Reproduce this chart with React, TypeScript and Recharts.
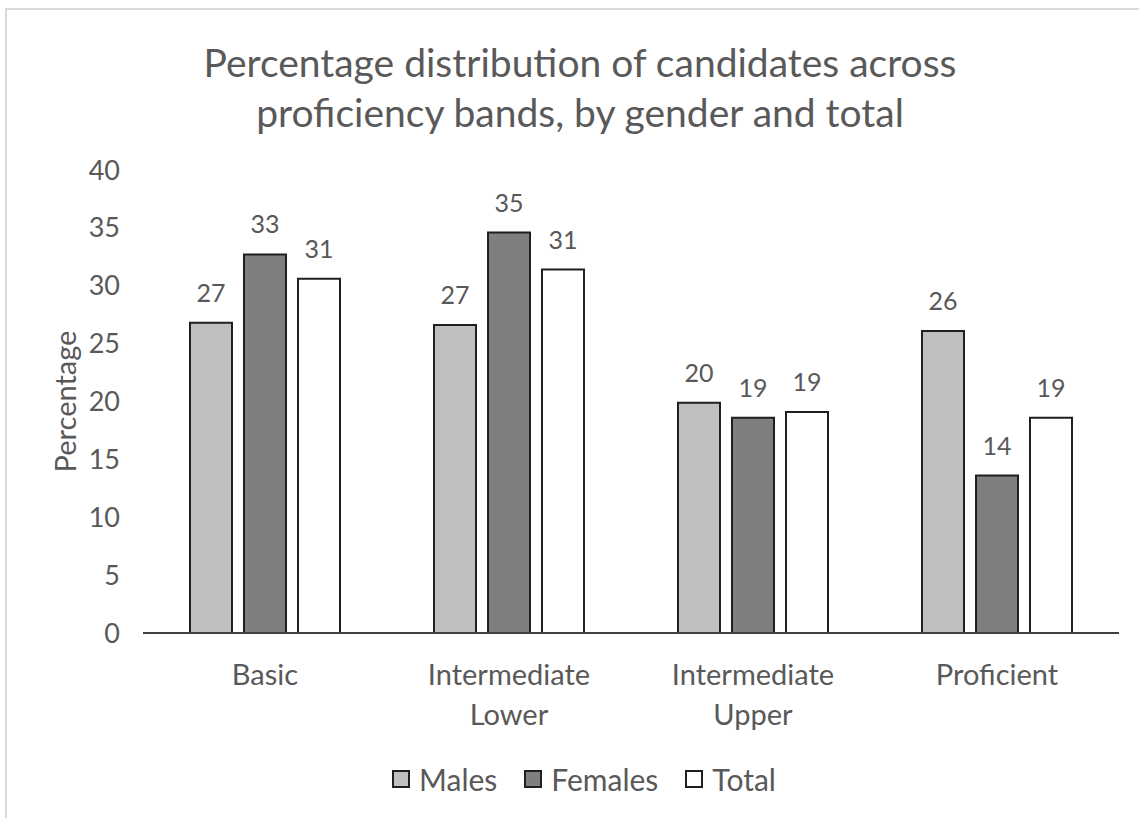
import { BarChart, Bar, XAxis, YAxis, LabelList } from 'recharts';

// ─── Data ───────────────────────────────────────────────────
const categories = ['Basic', 'Intermediate Lower', 'Intermediate Upper', 'Proficient'];
const males = [26.8, 26.6, 19.9, 26.1];
const females = [32.7, 34.6, 18.6, 13.6];
const total = [30.6, 31.4, 19.1, 18.6];
const yTicks = [0, 5, 10, 15, 20, 25, 30, 35, 40];

const series = [
  { key: 'Males', fill: '#bfbfbf' },
  { key: 'Females', fill: '#7f7f7f' },
  { key: 'Total', fill: '#ffffff' },
];

const data = categories.map((band, i) => ({
  band,
  Males: males[i],
  Females: females[i],
  Total: total[i],
}));

const FONT = 'Lato, "Open Sans", sans-serif';
const TEXT = '#595959';
const EDGE = '#1f1f1f';

// category labels wrap onto two lines like the original
function BandTick({ x, y, payload }: { x?: number; y?: number; payload?: { value: string } }) {
  const lines = String(payload?.value ?? '').split(' ');
  return (
    <text x={x} y={y} textAnchor="middle" fill={TEXT} fontSize={29} fontFamily={FONT}>
      {lines.map((l, i) => (
        <tspan key={i} x={x} dy={i === 0 ? 44 : 40}>{l}</tspan>
      ))}
    </text>
  );
}

export default function App() {
  return (
    <div style={{
      position: 'absolute', left: 0, top: 0, width: 1139, height: 818,
      overflow: 'hidden', background: '#fff', fontFamily: FONT,
    }}>
      <div style={{
        position: 'absolute', left: 5, top: 8, width: 1300, height: 1000,
        border: '2px solid #d9d9d9', boxSizing: 'border-box',
      }} />

      <div style={{
        position: 'absolute', left: 0, top: 37, width: 1160, textAlign: 'center',
        fontSize: 39, lineHeight: '50px', color: TEXT,
      }}>
        Percentage distribution of candidates across<br />
        proficiency bands, by gender and total
      </div>

      <div style={{ position: 'absolute', left: 0, top: 0 }}>
        <BarChart
          width={1139}
          height={818}
          data={data}
          margin={{ top: 170, right: 20, left: 0, bottom: 85 }}
          barSize={42}
          barGap={12}
        >
          <XAxis
            dataKey="band"
            height={100}
            interval={0}
            tickLine={false}
            axisLine={{ stroke: '#404040', strokeWidth: 2 }}
            tick={<BandTick />}
          />
          <YAxis
            width={143}
            domain={[0, 40]}
            ticks={yTicks}
            interval={0}
            axisLine={false}
            tickLine={false}
            tickMargin={17}
            tick={{ fontSize: 27, fill: TEXT, fontFamily: FONT }}
            label={{
              value: 'Percentage', angle: -90, position: 'center', dx: -6,
              style: { fontSize: 29, fill: TEXT, fontFamily: FONT },
            }}
          />
          {series.map(s => (
            <Bar
              key={s.key}
              dataKey={s.key}
              fill={s.fill}
              stroke={EDGE}
              strokeWidth={2}
              isAnimationActive={false}
            >
              <LabelList
                dataKey={s.key}
                position="top"
                offset={21}
                formatter={(v: number) => Math.round(v)}
                style={{ fontSize: 25, fill: TEXT, fontFamily: FONT }}
              />
            </Bar>
          ))}
        </BarChart>
      </div>

      <div style={{
        position: 'absolute', left: 0, top: 761, width: 1168,
        display: 'flex', justifyContent: 'center', gap: 27,
        fontSize: 30, color: TEXT, lineHeight: '36px',
      }}>
        {series.map(s => (
          <div key={s.key} style={{ display: 'flex', alignItems: 'center', gap: 9 }}>
            <span style={{
              width: 14, height: 14, background: s.fill,
              border: `2px solid ${EDGE}`, display: 'inline-block',
            }} />
            {s.key}
          </div>
        ))}
      </div>
    </div>
  );
}
